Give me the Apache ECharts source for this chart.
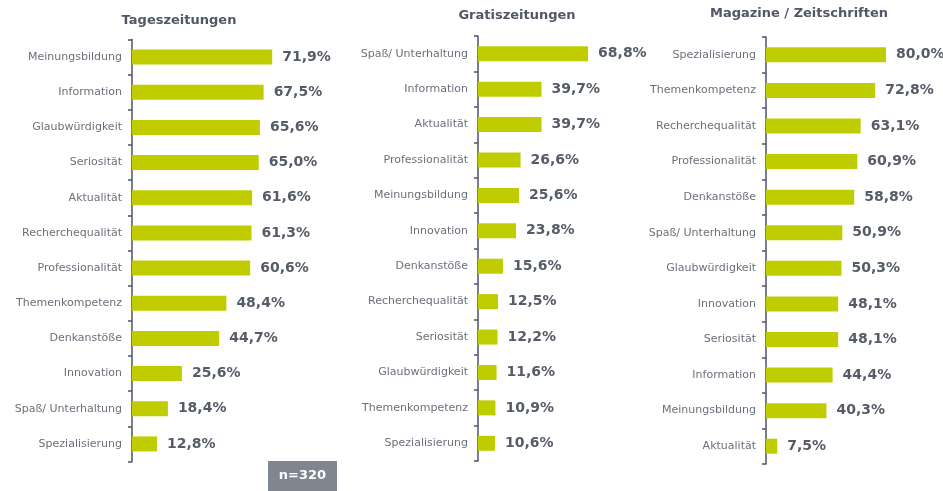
<!DOCTYPE html>
<html>
<head>
<meta charset="utf-8">
<script src="https://cdn.jsdelivr.net/npm/echarts@6/dist/echarts.min.js"></script>
<style>
html, body { margin: 0; padding: 0; background: #fff; }
#chart { width: 943px; height: 491px; }
</style>
</head>
<body>
<div id="chart"></div>
<script>
var titles = ['Tageszeitungen', 'Gratiszeitungen', 'Magazine / Zeitschriften'];

var catsTages = ['Meinungsbildung', 'Information', 'Glaubwürdigkeit', 'Seriosität', 'Aktualität', 'Recherchequalität',
    'Professionalität', 'Themenkompetenz', 'Denkanstöße', 'Innovation', 'Spaß/ Unterhaltung', 'Spezialisierung'];
var valsTages = [71.9, 67.5, 65.6, 65.0, 61.6, 61.3, 60.6, 48.4, 44.7, 25.6, 18.4, 12.8];

var catsGratis = ['Spaß/ Unterhaltung', 'Information', 'Aktualität', 'Professionalität', 'Meinungsbildung', 'Innovation',
    'Denkanstöße', 'Recherchequalität', 'Seriosität', 'Glaubwürdigkeit', 'Themenkompetenz', 'Spezialisierung'];
var valsGratis = [68.8, 39.7, 39.7, 26.6, 25.6, 23.8, 15.6, 12.5, 12.2, 11.6, 10.9, 10.6];

var catsMagazin = ['Spezialisierung', 'Themenkompetenz', 'Recherchequalität', 'Professionalität', 'Denkanstöße',
    'Spaß/ Unterhaltung', 'Glaubwürdigkeit', 'Innovation', 'Seriosität', 'Information', 'Meinungsbildung', 'Aktualität'];
var valsMagazin = [80.0, 72.8, 63.1, 60.9, 58.8, 50.9, 50.3, 48.1, 48.1, 44.4, 40.3, 7.5];

var sampleText = 'n=320';

var myChart = echarts.init(document.getElementById('chart'));

var grids = [
    { left: 132, top: 39.5, width: 195, height: 422 },
    { left: 478, top: 36, width: 160, height: 425 },
    { left: 766, top: 37, width: 150, height: 427 }
];
var allCats = [catsTages, catsGratis, catsMagazin];
var allVals = [valsTages, valsGratis, valsMagazin];
var titlePos = [[174, 9], [512, 4], [794, 2]];

var xAxes = [], yAxes = [], series = [], titleList = [];

grids.forEach(function(g, i) {
    titleList.push({
        text: titles[i],
        left: titlePos[i][0],
        top: titlePos[i][1],
        textAlign: 'center',
        textStyle: { fontFamily: 'DejaVu Sans', fontSize: 13, fontWeight: 'bold', color: '#505865' }
    });
    xAxes.push({
        gridIndex: i, type: 'value', min: 0, max: 100, show: false
    });
    yAxes.push({
        gridIndex: i,
        type: 'category',
        inverse: true,
        data: allCats[i],
        axisLine: { show: true, lineStyle: { color: '#4a5566', width: 1.5 } },
        axisTick: { show: true, length: 4, lineStyle: { color: '#4a5566', width: 1.5 } },
        axisLabel: { margin: 10, fontFamily: 'DejaVu Sans', fontSize: 11, color: '#6a707a' },
        splitLine: { show: false }
    });
    series.push({
        type: 'bar',
        xAxisIndex: i,
        yAxisIndex: i,
        data: allVals[i],
        barWidth: 15,
        itemStyle: { color: '#bfcc00' },
        label: {
            show: true,
            position: 'right',
            distance: 10,
            fontFamily: 'DejaVu Sans',
            fontSize: 14,
            fontWeight: 'bold',
            color: '#555c68',
            formatter: function(p) {
                return p.value.toFixed(1).replace('.', ',') + '%';
            }
        }
    });
});

var option = {
    animation: false,
    title: titleList,
    grid: grids,
    xAxis: xAxes,
    yAxis: yAxes,
    series: series,
    graphic: [{
        type: 'group',
        left: 268,
        top: 461,
        children: [{
            type: 'rect',
            shape: { x: 0, y: 0, width: 69, height: 30 },
            style: { fill: '#7f8690' }
        }, {
            type: 'text',
            x: 34.5,
            y: 15,
            style: {
                text: sampleText,
                fill: '#fff',
                font: 'bold 13px "DejaVu Sans"',
                align: 'center',
                verticalAlign: 'middle'
            }
        }]
    }]
};

myChart.setOption(option);
</script>
</body>
</html>
